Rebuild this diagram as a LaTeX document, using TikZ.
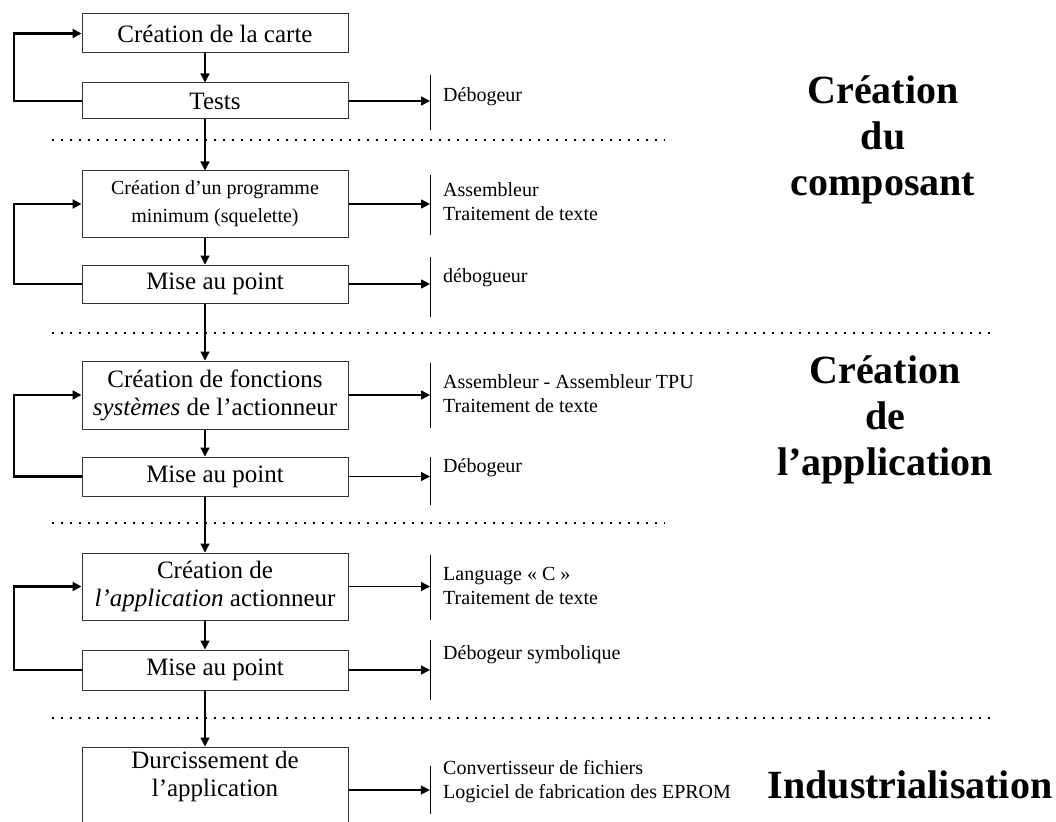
\documentclass[tikz,border=0pt]{standalone}
\usepackage{fontspec}
\setmainfont{Liberation Serif}
\usetikzlibrary{arrows.meta,calc}
\begin{document}
\begin{tikzpicture}[x=1pt,y=-1pt,
  box/.style={draw=black!80, line width=1pt, minimum width=266pt, inner sep=0pt, align=center, font=\fontsize{25}{28}\selectfont},
  smallbox/.style={box, font=\fontsize{20}{28}\selectfont},
  flow/.style={line width=1.4pt, -{Triangle[length=9pt,width=9pt]}},
  loopline/.style={line width=2.2pt, -{Triangle[length=9pt,width=9pt]}},
  barnode/.style={inner sep=0pt, minimum width=0pt, draw=none},
  rbar/.style={line width=1pt},
  rtext/.style={anchor=west, inner sep=0pt, align=left, font=\fontsize{20}{24}\selectfont},
  sep/.style={line width=1.6pt, dash pattern=on 1.6pt off 7.4pt},
  title/.style={align=center, inner sep=0pt, font=\bfseries\fontsize{40}{46}\selectfont}
]
\useasboundingbox (0,0) rectangle (1056,821);
\clip (0,0) rectangle (1056,821);

\coordinate (ax) at (205,0);
\coordinate (lx) at (14,0);

% boxes
\node[box, minimum height=39pt] (b1) at (215,33.5) {Création de la carte};
\node[box, minimum height=36pt] (b2) at (215,101) {Tests};
\node[smallbox, minimum height=66pt] (b3) at (215,204) {Création d’un programme\\minimum (squelette)};
\node[box, minimum height=38pt] (b4) at (215,284) {Mise au point};
\node[box, minimum height=68pt] (b5) at (215,395) {Création de fonctions\\\textit{systèmes} de l’actionneur};
\node[box, minimum height=39pt] (b6) at (215,476.5) {Mise au point};
\node[box, minimum height=67pt] (b7) at (215,586.5) {Création de\\\textit{l’application} actionneur};
\node[box, minimum height=40pt] (b8) at (215,670) {Mise au point};
\node[box, minimum height=120pt] (b9) at (215,807) {};
\node[align=center, inner sep=0pt, font=\fontsize{25}{28}\selectfont] (b9t) at (215,776) {Durcissement de\\l’application};

% separators
\draw[sep] (52,140) -- (665,140);
\draw[sep] (52,333) -- (990,333);
\draw[sep] (52,523) -- (665,523);
\draw[sep] (52,718) -- (990,718);

% vertical flow
\draw[flow] (b1.south -| ax) -- (b2.north -| ax);
\draw[flow] (b2.south -| ax) -- (b3.north -| ax);
\draw[flow] (b3.south -| ax) -- (b4.north -| ax);
\draw[flow] (b4.south -| ax) -- (b5.north -| ax);
\draw[flow] (b5.south -| ax) -- (b6.north -| ax);
\draw[flow] (b6.south -| ax) -- (b7.north -| ax);
\draw[flow] (b7.south -| ax) -- (b8.north -| ax);
\draw[flow] (b8.south -| ax) -- (b9.north -| ax);

% loops
\draw[loopline] (b2.west) -- (b2.west -| lx) |- (b1.west);
\draw[loopline] (b4.west) -- (b4.west -| lx) |- (b3.west);
\draw[loopline] (b6.west) -- (b6.west -| lx) |- (b5.west);
\draw[loopline] (b8.west) -- (b8.west -| lx) |- (b7.west);

% tool bars
\node[barnode, minimum height=55pt] (r1) at (430,102.5) {};
\node[barnode, minimum height=60pt] (r2) at (430,205) {};
\node[barnode, minimum height=60pt] (r3) at (430,287) {};
\node[barnode, minimum height=65pt] (r4) at (430,395.5) {};
\node[barnode, minimum height=48pt] (r5) at (430,481) {};
\node[barnode, minimum height=65pt] (r6) at (430,587.5) {};
\node[barnode, minimum height=60pt] (r7) at (430,670) {};
\node[barnode, minimum height=47pt] (r8) at (430,790) {};
\foreach \r in {r1,r2,r3,r4,r5,r6,r7,r8} \draw[rbar] (\r.north) -- (\r.south);

% tool arrows
\draw[flow] (b2.east) -- (r1 |- b2.east);
\draw[flow] (b3.east) -- (r2 |- b3.east);
\draw[flow] (b4.east) -- (r3 |- b4.east);
\draw[flow] (b5.east) -- (r4 |- b5.east);
\draw[flow] (b6.east) -- (r5 |- b6.east);
\draw[flow] (b7.east) -- (r6 |- b7.east);
\draw[flow] (b8.east) -- (r7 |- b8.east);
\draw[flow] (b9.east |- r8) -- (r8);

% tool texts
\node[rtext] (t1) at (443,97) {Débogeur};
\node[rtext] (t2) at (443,202) {Assembleur\\Traitement de texte};
\node[rtext] (t3) at (443,278) {débogueur};
\node[rtext] (t4) at (443,393.5) {Assembleur - Assembleur TPU\\Traitement de texte};
\node[rtext] (t5) at (443,468) {Débogeur};
\node[rtext] (t6) at (443,585.5) {Language « C »\\Traitement de texte};
\node[rtext] (t7) at (443,655) {Débogeur symbolique};
\node[rtext] (t8) at (443,781.5) {Convertisseur de fichiers\\Logiciel de fabrication des EPROM};

% titles
\node[title] (T1) at (883,140) {Création\\du\\composant};
\node[title] (T2) at (885,420) {Création\\de\\l’application};
\node[title] (T3) at (910,785) {Industrialisation};
\end{tikzpicture}
\end{document}
